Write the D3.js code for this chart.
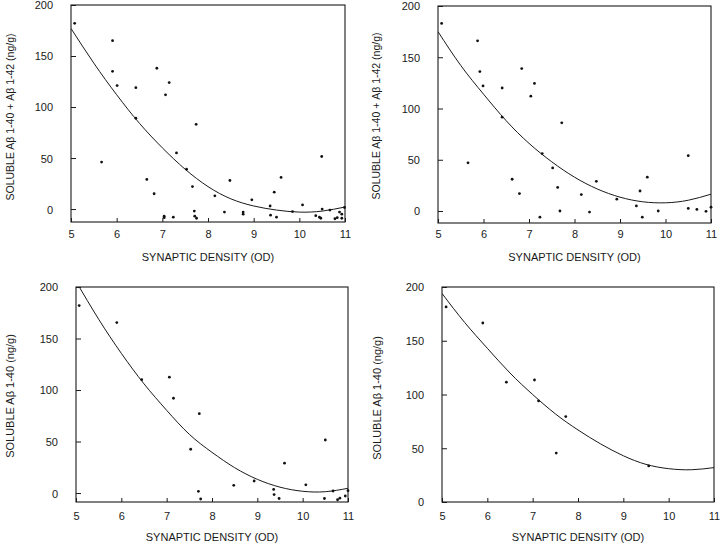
<!DOCTYPE html>
<html><head><meta charset="utf-8">
<script src="https://cdn.jsdelivr.net/npm/d3@7"></script>
<style>
body{margin:0;background:#fff}
svg{display:block}
text{font-family:"Liberation Sans",Arial,Helvetica,sans-serif;fill:#1a1a1a}
</style>
</head><body>
<svg id="chart" width="720" height="545"></svg>
<script>
// ---------- data ----------
const xTicks = [5, 6, 7, 8, 9, 10, 11];
const yTicks = [0, 50, 100, 150, 200];
const xTitle = "SYNAPTIC DENSITY (OD)";
const yTitleSum = "SOLUBLE Aβ 1-40 + Aβ 1-42 (ng/g)";
const yTitle40 = "SOLUBLE Aβ 1-40 (ng/g)";

// panel 1 (top-left)
const p1X = [5.08,5.67,5.91,5.91,6.01,6.42,6.42,6.66,6.82,6.88,7.15,7.07,7.31,7.53,7.74,7.66,7.70,7.71,7.75,7.04,7.04,7.24,8.15,8.36,8.48,8.77,8.77,8.96,9.36,9.37,9.45,9.50,9.60,9.85,10.07,10.36,10.44,10.47,10.49,10.50,10.67,10.78,10.83,10.88,10.93,10.93,10.99];
const p1Y = [182,46,165,135,121,119,89,29,15,138,124,112,55,39,83,22,-2,-7,-9,-7,-8.5,-8,13,-3,28,-3,-5,9,3,-6,16.5,-8,31,-2.5,4,-6.5,-8,-9,51.5,0,-1,-9.5,-8.5,-3,-5,-9,1.5];
// panel 2 (top-right)
const p2X = [5.08,5.66,5.87,5.92,5.99,6.41,6.41,6.63,6.79,6.84,7.04,7.12,7.29,7.52,7.72,7.63,7.68,7.24,8.15,8.33,8.48,8.93,9.36,9.44,9.49,9.60,9.84,10.50,10.50,10.69,10.89,11.0];
const p2Y = [183,47,166,136,122,120,91.5,31,17,139,112,124.5,56,42,86,23,0,-6,16,-1,29,11.5,5,19.5,-6,33,0,54,2.5,1.5,-0.3,3.7];
// panel 3 (bottom-left)
const p3X = [5.07,5.90,6.45,7.06,7.15,7.53,7.72,7.70,7.75,8.48,8.93,9.36,9.37,9.48,9.60,10.07,10.48,10.50,10.67,10.77,10.82,10.94,11.0];
const p3Y = [182,165.5,110,112.5,92,42.5,77,1.7,-5.8,7.5,11.7,3.5,-1.5,-5.3,29,8,-5.3,51.5,2,-6.5,-5,-2.9,2.3];
// panel 4 (bottom-right)
const p4X = [5.09,5.90,6.42,7.04,7.13,7.52,7.73,9.56];
const p4Y = [181.5,166.5,111.5,113.5,94,45.5,79.5,33.6];

// fitted curves at half-unit steps
const curveX = [5,5.5,6,6.5,7,7.5,8,8.5,9,9.5,10,10.5,11];
const c1Y = [177,143,112,84,60,39,22,10,3,-1,-3,-2,2];
const c2Y = [175,142,114,88,66,48,33,21.5,13.5,9,8,10.5,16.4];
const c3Y = [205.5,168.7,135.6,106,80.3,57,39.5,24.6,13.3,5.7,1.7,1.3,4.6];
const c4Y = [194,167,143,120,100,82,67,54,43,35,31,30,32];

// ---------- layout ----------
const panels = [
  {px:p1X, py:p1Y, cy:c1Y, title:yTitleSum, x0:71,  x1:345, top:5,   bot:222, yMin:-12.7, yMax:200, tickLabY:238, xTitleY:261, yTitleX:14,  yTitleC:117},
  {px:p2X, py:p2Y, cy:c2Y, title:yTitleSum, x0:438, x1:711, top:6,   bot:223, yMin:-11.7, yMax:200, tickLabY:238, xTitleY:261, yTitleX:380, yTitleC:116},
  {px:p3X, py:p3Y, cy:c3Y, title:yTitle40,  x0:76,  x1:348, top:287, bot:502, yMin:-8.7,  yMax:200, tickLabY:520, xTitleY:541, yTitleX:14,  yTitleC:396},
  {px:p4X, py:p4Y, cy:c4Y, title:yTitle40,  x0:442, x1:714, top:287, bot:502, yMin:0,     yMax:200, tickLabY:520, xTitleY:541, yTitleX:381, yTitleC:398}
];

const svg = d3.select("#chart");
const ink = "#1a1a1a";

panels.forEach((p, i) => {
  const x = d3.scaleLinear().domain([5, 11]).range([p.x0, p.x1]);
  const y = d3.scaleLinear().domain([p.yMin, p.yMax]).range([p.bot, p.top]);
  const g = svg.append("g");

  const clipId = "clip" + i;
  svg.append("clipPath").attr("id", clipId)
    .append("rect").attr("x", p.x0).attr("y", p.top)
    .attr("width", p.x1 - p.x0).attr("height", p.bot - p.top);

  // frame
  g.append("rect").attr("x", p.x0).attr("y", p.top)
    .attr("width", p.x1 - p.x0).attr("height", p.bot - p.top)
    .attr("fill", "none").attr("stroke", ink).attr("stroke-width", 1.1);

  // bottom axis (inward ticks)
  const xa = g.append("g").attr("transform", `translate(0,${p.bot})`)
    .call(d3.axisBottom(x).tickValues(xTicks).tickSizeInner(-4).tickSizeOuter(0).tickFormat(d3.format("d")));
  xa.select(".domain").remove();
  xa.selectAll("line").attr("stroke", ink);
  xa.selectAll("text").attr("y", null).attr("dy", null)
    .attr("transform", `translate(0,${p.tickLabY - p.bot})`)
    .style("font-size", "11px").attr("fill", ink);

  // left axis (inward ticks)
  const ya = g.append("g").attr("transform", `translate(${p.x0},0)`)
    .call(d3.axisLeft(y).tickValues(yTicks).tickSizeInner(-5).tickSizeOuter(0).tickFormat(d3.format("d")));
  ya.select(".domain").remove();
  ya.selectAll("line").attr("stroke", ink);
  ya.selectAll("text").attr("x", -18).attr("dy", "0.36em")
    .style("font-size", "11px").attr("fill", ink);

  // fitted curve
  const line = d3.line().x(d => x(d[0])).y(d => y(d[1])).curve(d3.curveNatural);
  g.append("path").datum(curveX.map((v, k) => [v, p.cy[k]]))
    .attr("d", line).attr("fill", "none").attr("stroke", ink)
    .attr("stroke-width", 1).attr("clip-path", `url(#${clipId})`);

  // points
  g.selectAll("circle.pt").data(p.px.map((v, k) => [v, p.py[k]])).join("circle")
    .attr("class", "pt").attr("cx", d => x(d[0])).attr("cy", d => y(d[1]))
    .attr("r", 1.4).attr("fill", "#111");

  // x title
  g.append("text").attr("x", (p.x0 + p.x1) / 2).attr("y", p.xTitleY)
    .attr("text-anchor", "middle").style("font-size", "11px").text(xTitle);

  // y title
  g.append("text").attr("transform", `translate(${p.yTitleX},${p.yTitleC}) rotate(-90)`)
    .attr("text-anchor", "middle").style("font-size", i < 2 ? "10.5px" : "11px").text(p.title);
});
</script>
</body></html>
